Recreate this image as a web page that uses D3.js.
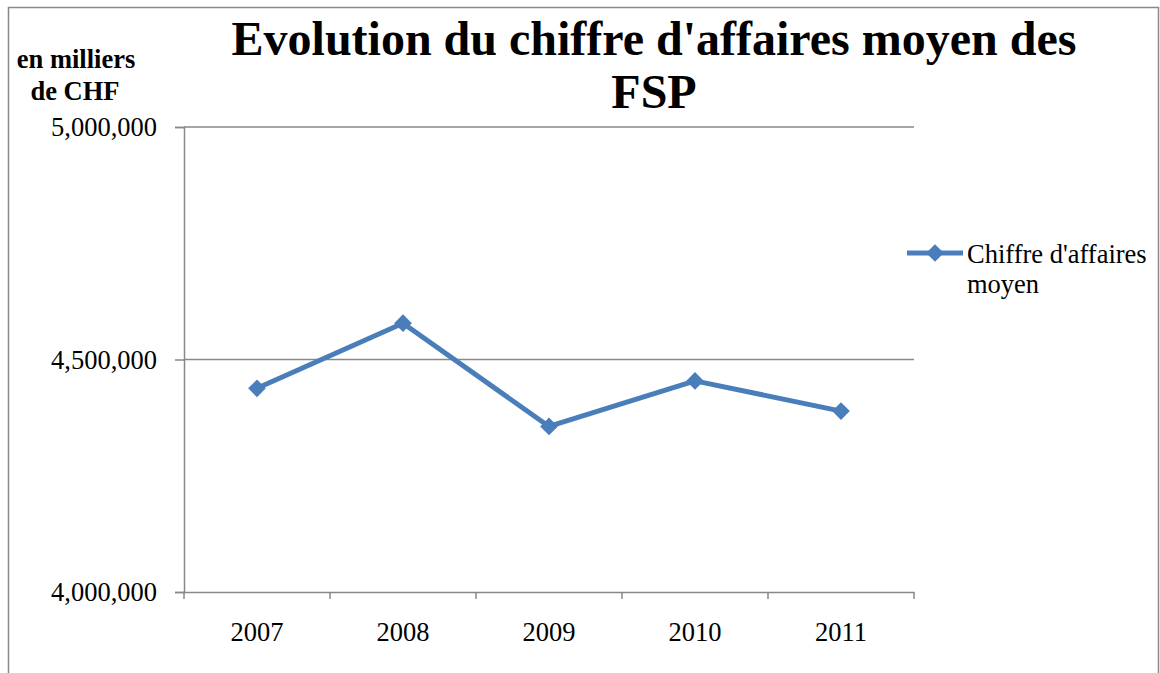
<!DOCTYPE html>
<html>
<head>
<meta charset="utf-8">
<script src="https://cdn.jsdelivr.net/npm/d3@7"></script>
<style>
  body { margin: 0; background: #fff; }
  svg text { font-family: "Times New Roman", "Liberation Serif", Times, serif; fill: #000; }
</style>
</head>
<body>
<div id="chart"></div>
<script>
const years = ["2007", "2008", "2009", "2010", "2011"];
const values = [4438000, 4578000, 4356000, 4454000, 4389000];
const yTicks = [4000000, 4500000, 5000000];
const seriesName = "Chiffre d'affaires moyen";

const W = 1160, H = 673;
const margin = { top: 127, right: 246, bottom: 81, left: 184 },
  width = W - margin.left - margin.right,
  height = H - margin.top - margin.bottom;

const blue = "#4a7ebb", grey = "#898989";
const fontSize = "26.5px";

const svg = d3.select("#chart").append("svg")
  .attr("width", W).attr("height", H);

// outer chart border
svg.append("path")
  .attr("d", "M8.5,673 V7.5 H1158.5 V673")
  .attr("fill", "none").attr("stroke", grey).attr("stroke-width", 1.5);

const g = svg.append("g")
  .attr("transform", "translate(" + margin.left + "," + margin.top + ")");

const x = d3.scaleBand().domain(years).range([0, width]);
const y = d3.scaleLinear().domain([4000000, 5000000]).range([height, 0]);

// gridlines
g.selectAll(".grid").data(yTicks.slice(1)).enter().append("line")
  .attr("x1", 0).attr("x2", width)
  .attr("y1", d => y(d)).attr("y2", d => y(d))
  .attr("stroke", grey).attr("stroke-width", 1.5);

// y axis
const yAxis = g.append("g")
  .call(d3.axisLeft(y).tickValues(yTicks).tickSize(9).tickPadding(18)
    .tickFormat(d3.format(",")));
yAxis.select(".domain").attr("stroke", grey).attr("stroke-width", 1.5);
yAxis.selectAll(".tick line").attr("stroke", grey).attr("stroke-width", 1.5);
yAxis.selectAll("text").style("font-size", fontSize).attr("dy", "0.33em");

// x axis
const xAxis = g.append("g").attr("transform", "translate(0," + height + ")")
  .call(d3.axisBottom(x).tickSize(0));
xAxis.select(".domain").attr("stroke", grey).attr("stroke-width", 1.5);
xAxis.selectAll("text").style("font-size", fontSize).attr("y", 49).attr("dy", 0);
// category boundary ticks
const bounds = years.map(d => x(d)).concat([width]);
g.selectAll(".xb").data(bounds).enter().append("line")
  .attr("x1", d => d).attr("x2", d => d)
  .attr("y1", height).attr("y2", height + 7)
  .attr("stroke", grey).attr("stroke-width", 1.5);

// line
const pts = years.map((d, i) => ({ year: d, value: values[i] }));
const line = d3.line()
  .x(d => x(d.year) + x.bandwidth() / 2)
  .y(d => y(d.value));
g.append("path").datum(pts).attr("d", line)
  .attr("fill", "none").attr("stroke", blue).attr("stroke-width", 5)
  .attr("stroke-linejoin", "round");

const diamond = d3.symbol().type(d3.symbolDiamond2).size(200);
g.selectAll(".dot").data(pts).enter().append("path")
  .attr("d", diamond)
  .attr("transform", d => "translate(" + (x(d.year) + x.bandwidth() / 2) + "," + y(d.value) + ")")
  .attr("fill", blue);

// title
svg.append("text").attr("x", 654).attr("y", 55).attr("text-anchor", "middle")
  .style("font-size", "48px").style("font-weight", "bold")
  .text("Evolution du chiffre d'affaires moyen des");
svg.append("text").attr("x", 654).attr("y", 108).attr("text-anchor", "middle")
  .style("font-size", "48px").style("font-weight", "bold")
  .text("FSP");

// y axis unit label
svg.append("text").attr("x", 76).attr("y", 68).attr("text-anchor", "middle")
  .style("font-size", fontSize).style("font-weight", "bold").text("en milliers");
svg.append("text").attr("x", 75).attr("y", 100).attr("text-anchor", "middle")
  .style("font-size", fontSize).style("font-weight", "bold").text("de CHF");

// legend
const lg = svg.append("g").attr("transform", "translate(907,253)");
lg.append("line").attr("x1", 0).attr("x2", 56).attr("y1", 0).attr("y2", 0)
  .attr("stroke", blue).attr("stroke-width", 5);
lg.append("path").attr("d", diamond).attr("transform", "translate(28,0)").attr("fill", blue);
const words = seriesName.split(" ");
lg.append("text").attr("x", 60).attr("y", 10).style("font-size", fontSize)
  .text(words.slice(0, 2).join(" "));
lg.append("text").attr("x", 60).attr("y", 40).style("font-size", fontSize)
  .text(words.slice(2).join(" "));
</script>
</body>
</html>
